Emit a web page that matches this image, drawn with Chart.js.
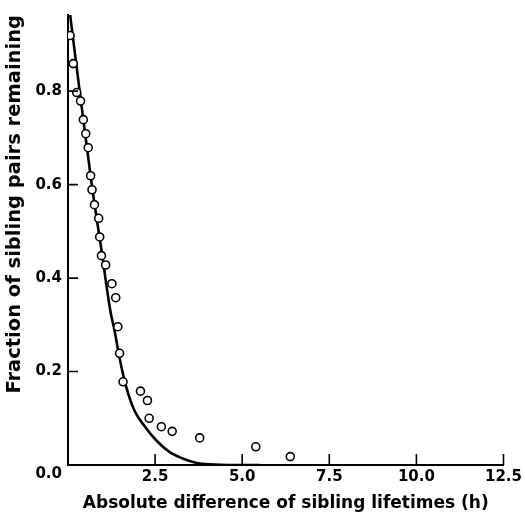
<!DOCTYPE html>
<html>
<head>
<meta charset="utf-8">
<script src="https://cdn.jsdelivr.net/npm/chart.js@4"></script>
<style>
  html, body { margin: 0; padding: 0; background: #fff; }
  #wrap { width: 525px; height: 515px; }
</style>
</head>
<body>
<div id="wrap"><canvas id="siblingChart"></canvas></div>
<script>
// observed pairs (open circles)
const pairDiffs = [0.06, 0.15, 0.25, 0.36, 0.44, 0.51, 0.58, 0.65, 0.69, 0.76, 0.88, 0.91, 0.96, 1.08,
    1.26, 1.37, 1.43, 1.48, 1.58, 2.08, 2.28, 2.33, 2.68, 2.99, 3.78, 5.39, 6.38];
const pairFractions = [0.919, 0.859, 0.797, 0.779, 0.739, 0.709, 0.679, 0.619, 0.589, 0.557, 0.528, 0.488, 0.448, 0.428,
    0.388, 0.358, 0.296, 0.239, 0.178, 0.158, 0.138, 0.100, 0.082, 0.072, 0.058, 0.039, 0.018];

// fitted curve
const curveX = [0, 0.31, 0.676, 0.95, 1.22, 1.34, 1.48, 1.675, 1.91, 2.2, 2.53, 2.91, 3.29, 3.67, 4.05, 4.81, 5.5];
const curveY = [1.0, 0.815, 0.603, 0.465, 0.328, 0.286, 0.229, 0.166, 0.116, 0.083, 0.053, 0.028, 0.014, 0.005, 0.0015, 0, 0];

const xTicks = [0, 2.5, 5.0, 7.5, 10.0, 12.5];
const yTicks = [0, 0.2, 0.4, 0.6, 0.8];

// short tick marks pointing into the plot
const inwardTicks = {
    id: "inwardTicks",
    afterDatasetsDraw(chart) {
        const { ctx, chartArea, scales } = chart;
        ctx.save();
        ctx.strokeStyle = "#000";
        ctx.lineWidth = 1.6;
        ctx.beginPath();
        xTicks.forEach(v => {
            const px = scales.x.getPixelForValue(v);
            ctx.moveTo(px, chartArea.bottom);
            ctx.lineTo(px, chartArea.bottom - 11);
        });
        yTicks.forEach(v => {
            const py = scales.y.getPixelForValue(v);
            ctx.moveTo(chartArea.left, py);
            ctx.lineTo(chartArea.left + 10, py);
        });
        ctx.stroke();
        ctx.restore();
    }
};

const tickFont = { family: "'DejaVu Sans', sans-serif", size: 15, weight: "bold" };
const xTitleFont = { family: "'DejaVu Sans', sans-serif", size: 17, weight: "bold" };
const yTitleFont = { family: "'DejaVu Sans', sans-serif", size: 19.5, weight: "bold" };

new Chart(document.getElementById("siblingChart"), {
    type: "scatter",
    data: {
        datasets: [
            {
                label: "fit",
                data: curveX.map((x, i) => ({ x: x, y: curveY[i] })),
                showLine: true,
                borderColor: "#000",
                borderWidth: 2.6,
                pointRadius: 0,
                tension: 0.4,
                cubicInterpolationMode: "monotone",
                order: 2
            },
            {
                label: "pairs",
                data: pairDiffs.map((x, i) => ({ x: x, y: pairFractions[i] })),
                showLine: false,
                pointRadius: 4,
                pointBorderWidth: 1.6,
                pointBorderColor: "#000",
                pointBackgroundColor: "#fff",
                order: 1
            }
        ]
    },
    options: {
        responsive: true,
        maintainAspectRatio: false,
        animation: false,
        layout: { padding: { left: 0, top: 10, right: 19, bottom: 0 } },
        plugins: {
            legend: { display: false },
            tooltip: { enabled: false }
        },
        scales: {
            x: {
                type: "linear",
                min: 0,
                max: 12.5,
                afterFit: s => { s.height = 50; },
                afterBuildTicks: s => { s.ticks = xTicks.map(v => ({ value: v })); },
                grid: { display: false, drawTicks: false },
                border: { display: true, color: "#000", width: 2 },
                ticks: {
                    color: "#000",
                    font: tickFont,
                    padding: 3,
                    maxRotation: 0,
                    callback: v => (v === 0 ? "" : v.toFixed(1))
                },
                title: {
                    display: true,
                    text: "Absolute difference of sibling lifetimes (h)",
                    color: "#000",
                    font: xTitleFont,
                    padding: { top: 0, bottom: 1 }
                }
            },
            y: {
                type: "linear",
                min: 0,
                max: 0.963,
                afterFit: s => { s.width = 68; },
                afterBuildTicks: s => { s.ticks = yTicks.map(v => ({ value: v })); },
                grid: { display: false, drawTicks: false },
                border: { display: true, color: "#000", width: 2 },
                ticks: {
                    color: "#000",
                    font: tickFont,
                    padding: 6,
                    callback: v => (v === 0 ? ["", "0.0"] : v.toFixed(1))
                },
                title: {
                    display: true,
                    align: "end",
                    text: "Fraction of sibling pairs remaining",
                    color: "#000",
                    font: yTitleFont,
                    padding: { top: 3, bottom: 0 }
                }
            }
        }
    },
    plugins: [inwardTicks]
});
</script>
</body>
</html>
